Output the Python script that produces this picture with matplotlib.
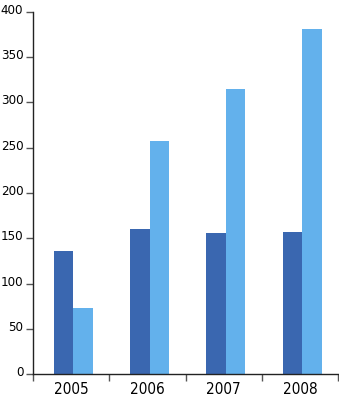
import matplotlib
matplotlib.use('Agg')
import matplotlib.pyplot as plt
import matplotlib.transforms as mtransforms
import numpy as np

plt.rcParams['font.family'] = ['DejaVu Sans']
plt.rcParams['font.stretch'] = 'condensed'

years = ['2005', '2006', '2007', '2008']
series_a = [136, 160, 156, 157]
series_b = [73, 258, 315, 381]
y_ticks = [0, 50, 100, 150, 200, 250, 300, 350, 400]

dark = '#3a67b0'
light = '#63b1ec'

fig = plt.figure(figsize=(3.39, 3.98), dpi=100)
ax = fig.add_axes([33 / 339, 24 / 398, 305 / 339, 362 / 398])

x = np.arange(len(years))
w = 0.255
ax.bar(x + 0.03 - w / 2, series_a, width=w, color=dark, linewidth=0)
ax.bar(x + 0.03 + w / 2, series_b, width=w, color=light, linewidth=0)

ax.set_xlim(-0.5, len(years) - 0.5)
ax.set_ylim(0, 400)

for s in ['top', 'right']:
    ax.spines[s].set_visible(False)
for s in ['left', 'bottom']:
    ax.spines[s].set_color('#222222')
    ax.spines[s].set_linewidth(1.0)

ax.set_yticks(y_ticks)
ax.set_yticklabels([str(t) for t in y_ticks], fontsize=9.5)
ax.tick_params(axis='y', length=5, width=1, color='#555555', pad=2)
offset = mtransforms.ScaledTranslation(0, 3 / 100, fig.dpi_scale_trans)
for lbl in ax.get_yticklabels():
    lbl.set_transform(lbl.get_transform() + offset)

ax.set_xticks(np.arange(len(years) + 1) - 0.5)
ax.set_xticklabels([])
ax.tick_params(axis='x', length=5, width=1, color='#555555')
for i, yr in enumerate(years):
    ax.text(i, -0.043, yr, transform=ax.get_xaxis_transform(), ha='center', va='center', fontsize=11)

fig.savefig('out.png', dpi=100)
